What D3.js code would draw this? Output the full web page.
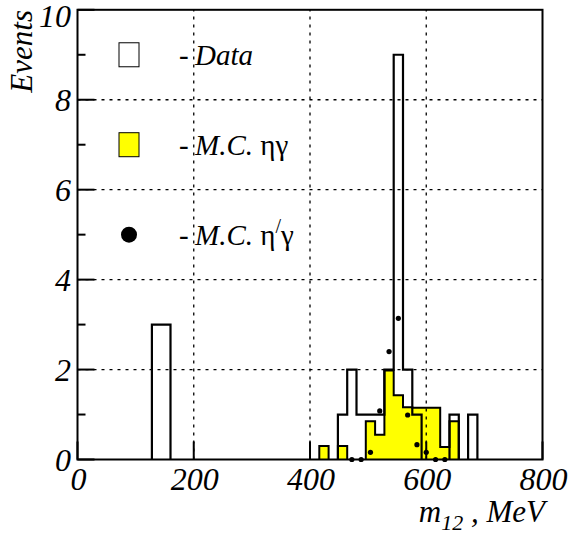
<!DOCTYPE html>
<html>
<head>
<meta charset="utf-8">
<script src="https://cdn.jsdelivr.net/npm/d3@7"></script>
<style>
  html, body { margin: 0; padding: 0; background: #fff; }
  svg { display: block; }
  text { font-family: "Liberation Serif", "Times New Roman", Times, serif; font-style: italic; fill: #000; }
</style>
</head>
<body>
<svg id="chart" width="569" height="540" font-family="Liberation Serif, serif"></svg>
<script>
// ---------------- data ----------------
const binWidth = 16; // MeV
// Data histogram: lower bin edges (MeV) and event counts
const dataBinLow = [128, 144, 448, 464, 480, 496, 512, 528, 544, 560, 576, 640, 672];
const dataCounts = [3, 3, 1, 2, 1, 1, 1, 2, 9, 2, 1, 1, 1];
// M.C. eta gamma (yellow histogram): lower bin edges and normalized values
const mcEtaBinLow = [416, 448, 496, 512, 528, 544, 560, 576, 592, 608, 624, 640];
const mcEtaValues = [0.3, 0.3, 0.85, 0.55, 1.98, 1.43, 1.16, 1.15, 1.15, 1.15, 0.28, 0.85];
// M.C. eta' gamma (points at bin centres)
const mcEtaPrimeX = [472, 488, 504, 520, 536, 552, 568, 584, 600, 616, 632];
const mcEtaPrimeValues = [0, 0, 0.16, 1.08, 2.4, 3.14, 0.99, 0.33, 0.16, 0, 0];
// Axes
const xTicks = [0, 200, 400, 600, 800];
const yTicks = [0, 2, 4, 6, 8, 10];
const yMinorTicks = [1, 3, 5, 7, 9];
const xTitle = "m";
const xTitleSub = "12";
const xTitleRest = " , MeV";
const yTitle = "Events";
const legendLabels = ["Data", "M.C. ", "ηγ", "η", "/", "γ"];

// ---------------- layout ----------------
const svg = d3.select("#chart");
const x = d3.scaleLinear().domain([0, 800]).range([77.5, 542.5]);
const y = d3.scaleLinear().domain([0, 10]).range([459.5, 9.8]);

function stepPath(lows, vals) {
  const map = new Map();
  lows.forEach((l, i) => map.set(l, vals[i]));
  const sorted = lows.slice().sort((a, b) => a - b);
  let d = "";
  let i = 0;
  while (i < sorted.length) {
    const seg = [sorted[i]];
    while (i + 1 < sorted.length && sorted[i + 1] === sorted[i] + binWidth) { i++; seg.push(sorted[i]); }
    i++;
    d += "M" + x(seg[0]) + "," + y(0);
    seg.forEach(l => {
      d += "L" + x(l) + "," + y(map.get(l)) + "L" + x(l + binWidth) + "," + y(map.get(l));
    });
    d += "L" + x(seg[seg.length - 1] + binWidth) + "," + y(0);
  }
  return d;
}

// yellow MC eta gamma
svg.append("path")
  .attr("d", stepPath(mcEtaBinLow, mcEtaValues))
  .attr("fill", "#ffff00")
  .attr("stroke", "#000")
  .attr("stroke-width", 2)
  .attr("stroke-linejoin", "miter");

// data outline
svg.append("path")
  .attr("d", stepPath(dataBinLow, dataCounts))
  .attr("fill", "none")
  .attr("stroke", "#000")
  .attr("stroke-width", 2.2)
  .attr("stroke-linejoin", "miter");

// MC eta' gamma points
svg.selectAll("circle.mc2").data(mcEtaPrimeX).enter().append("circle")
  .attr("class", "mc2")
  .attr("cx", d => x(d))
  .attr("cy", (d, i) => y(mcEtaPrimeValues[i]))
  .attr("r", 2.6)
  .attr("fill", "#000");

// grid
const grid = svg.append("g").attr("stroke", "#000").attr("stroke-width", 1.3).attr("stroke-dasharray", "3,5");
xTicks.slice(1, -1).forEach(t => {
  grid.append("line").attr("x1", x(t)).attr("x2", x(t)).attr("y1", y(0)).attr("y2", y(10));
});
yTicks.slice(1, -1).forEach(t => {
  grid.append("line").attr("x1", x(0)).attr("x2", x(800)).attr("y1", y(t)).attr("y2", y(t));
});

// frame
svg.append("rect")
  .attr("x", x(0)).attr("y", y(10))
  .attr("width", x(800) - x(0)).attr("height", y(0) - y(10))
  .attr("fill", "none").attr("stroke", "#000").attr("stroke-width", 2);

// ticks
const tk = svg.append("g").attr("stroke", "#000").attr("stroke-width", 2);
yTicks.forEach(t => tk.append("line").attr("x1", x(0)).attr("x2", x(0) + 17).attr("y1", y(t)).attr("y2", y(t)));
yMinorTicks.forEach(t => tk.append("line").attr("x1", x(0)).attr("x2", x(0) + 8).attr("y1", y(t)).attr("y2", y(t)));
xTicks.forEach(t => tk.append("line").attr("x1", x(t)).attr("x2", x(t)).attr("y1", y(0)).attr("y2", y(0) - 18));

// tick labels
const fs = 32;
svg.selectAll("text.yt").data(yTicks).enter().append("text")
  .attr("class", "yt")
  .attr("x", 71).attr("y", d => Math.max(y(d) + 11, 27))
  .attr("text-anchor", "end")
  .style("font-size", fs + "px")
  .text(d => d);
svg.selectAll("text.xt").data(xTicks).enter().append("text")
  .attr("class", "xt")
  .attr("x", d => x(d) + 1).attr("y", 490)
  .attr("text-anchor", "middle")
  .style("font-size", fs + "px")
  .text(d => d);

// axis titles
const xt = svg.append("text").attr("x", 545).attr("y", 522).attr("text-anchor", "end").style("font-size", "31px");
xt.append("tspan").text(xTitle);
xt.append("tspan").attr("dy", 8).style("font-size", "22px").text(xTitleSub);
xt.append("tspan").attr("dy", -8).text(xTitleRest);

svg.append("text")
  .attr("transform", "translate(32,10) rotate(-90)")
  .attr("text-anchor", "end")
  .style("font-size", "31px")
  .text(yTitle);

// legend
const lx = 119, lw = 20, lh = 24;
svg.append("rect").attr("x", lx).attr("y", y(9) - lh / 2).attr("width", lw).attr("height", lh)
  .attr("fill", "#fff").attr("stroke", "#000").attr("stroke-width", 1);
svg.append("rect").attr("x", lx).attr("y", y(7) - lh / 2).attr("width", lw).attr("height", lh)
  .attr("fill", "#ffff00").attr("stroke", "#000").attr("stroke-width", 1);
svg.append("circle").attr("cx", lx + lw / 2).attr("cy", y(5)).attr("r", 8).attr("fill", "#000");

const legRows = [9, 7, 5];
legRows.forEach(r => {
  svg.append("text").attr("x", 179).attr("y", y(r) + 10).style("font-size", "29px").style("font-style", "normal").text("-");
});
svg.append("text").attr("x", 195).attr("y", y(9) + 10).style("font-size", "29px").text(legendLabels[0]);
const l2 = svg.append("text").attr("x", 195).attr("y", y(7) + 10).style("font-size", "29px");
l2.append("tspan").text(legendLabels[1]);
l2.append("tspan").style("font-style", "normal").text(legendLabels[2]);
const l3 = svg.append("text").attr("x", 195).attr("y", y(5) + 10).style("font-size", "29px");
l3.append("tspan").text(legendLabels[1]);
l3.append("tspan").style("font-style", "normal").text(legendLabels[3]);
l3.append("tspan").style("font-style", "normal").style("font-size", "20px").attr("dy", -12).text(legendLabels[4]);
l3.append("tspan").style("font-style", "normal").attr("dy", 12).text(legendLabels[5]);
</script>
</body>
</html>
